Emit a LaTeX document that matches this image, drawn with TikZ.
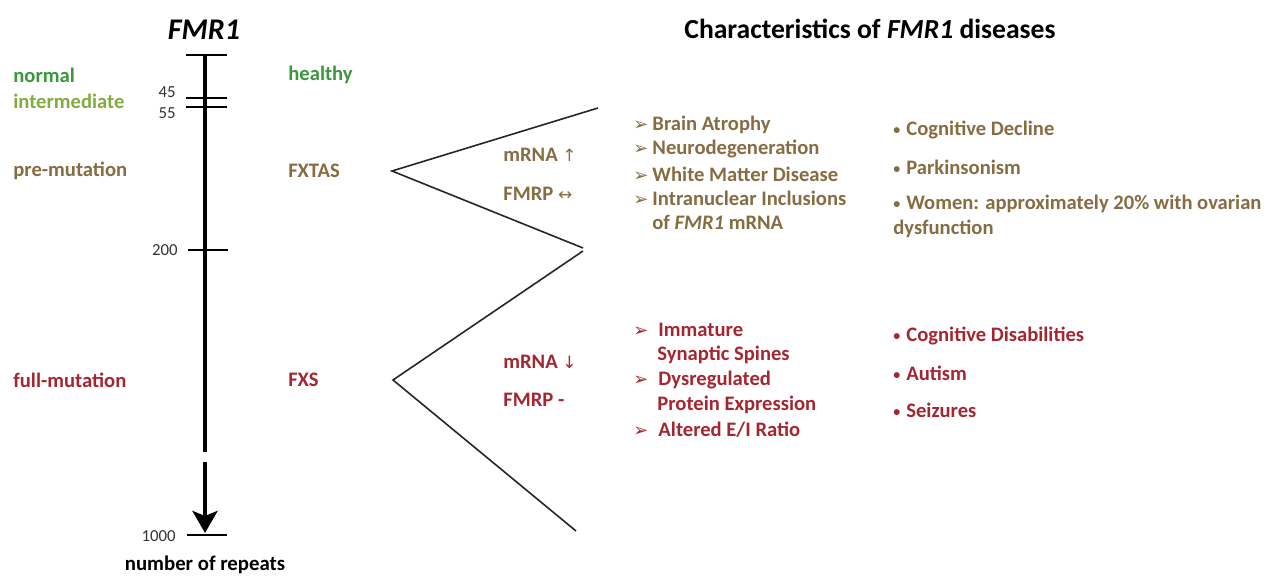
\documentclass[tikz,border=0pt]{standalone}
\usepackage{fontspec}
\setmainfont{Carlito}
\newfontfamily\symfont{DejaVu Sans}
\usetikzlibrary{arrows.meta}
\definecolor{gnormal}{RGB}{60,150,60}
\definecolor{ginter}{RGB}{130,172,64}
\definecolor{brn}{RGB}{135,108,66}
\definecolor{rd}{RGB}{165,38,48}
\definecolor{numgray}{RGB}{50,50,50}
\newcommand{\arr}{{\symfont\fontsize{9}{10}\selectfont ➢}\hspace{2pt}}
\newcommand{\bul}{\raisebox{0.5pt}{\fontsize{7}{8}\selectfont\textbullet}\hspace{3pt}}
\tikzset{
  lbl/.style={anchor=west, inner sep=0pt, font=\bfseries\fontsize{10.3}{12}\selectfont},
  num/.style={anchor=east, inner sep=0pt, text=numgray, font=\fontsize{8.4}{10}\selectfont},
  axisline/.style={line width=2.2pt, black},
  tick/.style={line width=1.4pt, black},
  zig/.style={line width=0.8pt, black!85},
}
\begin{document}
\begin{tikzpicture}[x=0.5pt,y=-0.5pt]
\useasboundingbox (0,0) rectangle (1282,577);
% titles
\node[inner sep=0pt, font=\bfseries\itshape\fontsize{15}{17}\selectfont] (t1) at (204,30) {FMR1};
\node[inner sep=0pt, font=\bfseries\fontsize{13.8}{16}\selectfont] (t2) at (870,29) {Characteristics of \textit{FMR1} diseases};
% axis
\coordinate (a0) at (205,55);
\coordinate (a1) at (205,452);
\coordinate (a2) at (205,462);
\coordinate (a3) at (205,533);
\draw[axisline] (a0) -- (a1);
\draw[axisline, -{Stealth[length=11pt,width=12.5pt,inset=2.5pt]}] (a2) -- (a3);
\coordinate (k0l) at (186,55); \coordinate (k0r) at (227,55);
\coordinate (k1l) at (186,98); \coordinate (k1r) at (227,98);
\coordinate (k2l) at (186,107); \coordinate (k2r) at (227,107);
\coordinate (k3l) at (188,250); \coordinate (k3r) at (228,250);
\coordinate (k4l) at (187,535); \coordinate (k4r) at (227,535);
\draw[tick] (k0l) -- (k0r);
\draw[tick] (k1l) -- (k1r);
\draw[tick] (k2l) -- (k2r);
\draw[tick] (k3l) -- (k3r);
\draw[tick] (k4l) -- (k4r);
\node[num] (n45) at (176,92) {45};
\node[num] (n55) at (176,113) {55};
\node[num] (n200) at (178,250) {200};
\node[num] (n1000) at (176,536) {1000};
\node[inner sep=0pt, font=\bfseries\fontsize{10.4}{12}\selectfont] (rep) at (205,565) {number of repeats};
% left labels
\node[lbl, text=gnormal] (normal) at (13,75) {normal};
\node[lbl, text=ginter] (inter) at (13,101) {intermediate};
\node[lbl, text=brn] (pre) at (13,171) {pre-mutation};
\node[lbl, text=rd] (full) at (13,380) {full-mutation};
\node[lbl, text=gnormal] (healthy) at (288,75) {healthy};
\node[lbl, text=brn] (fxtas) at (288,171) {FXTAS};
\node[lbl, text=rd] (fxs) at (288,380) {FXS};
% zigzag
\coordinate (z0) at (598,108);
\coordinate (z1) at (392,171);
\coordinate (z2) at (583,248);
\coordinate (z3) at (583,251);
\coordinate (z4) at (393,380);
\coordinate (z5) at (576,531);
\draw[zig] (z0) -- (z1) -- (z2);
\draw[zig] (z3) -- (z4) -- (z5);
% FXTAS
\node[lbl, text=brn] (m1) at (503,155) {mRNA {\symfont\mdseries\fontsize{8.5}{9}\selectfont ↑}};
\node[lbl, text=brn] (f1) at (503,194) {FMRP {\symfont\mdseries\fontsize{8.5}{9}\selectfont ↔}};
\node[lbl, text=brn] (b1) at (633,125) {\arr Brain Atrophy};
\node[lbl, text=brn] (b2) at (633,149) {\arr Neurodegeneration};
\node[lbl, text=brn] (b3) at (633,174) {\arr White Matter Disease};
\node[lbl, text=brn] (b4) at (633,198) {\arr Intranuclear Inclusions};
\node[lbl, text=brn] (b5) at (652,222) {of \textit{FMR1} mRNA};
\node[lbl, text=brn] (c1) at (893,130) {\bul Cognitive Decline};
\node[lbl, text=brn] (c2) at (893,167) {\bul Parkinsonism};
\node[lbl, text=brn] (c3) at (893,204) {\bul Women: approximately 20\% with ovarian};
\node[lbl, text=brn] (c4) at (893,229) {dysfunction};
% FXS
\node[lbl, text=rd] (m2) at (503,362) {mRNA {\symfont\mdseries\fontsize{8.5}{9}\selectfont ↓}};
\node[lbl, text=rd] (f2) at (503,400) {FMRP -};
\node[lbl, text=rd] (d1) at (633,330) {\arr\hspace{3pt}Immature};
\node[lbl, text=rd] (d2) at (657,355) {Synaptic Spines};
\node[lbl, text=rd] (d3) at (633,380) {\arr\hspace{3pt}Dysregulated};
\node[lbl, text=rd] (d4) at (657,405) {Protein Expression};
\node[lbl, text=rd] (d5) at (633,430) {\arr\hspace{3pt}Altered E/I Ratio};
\node[lbl, text=rd] (e1) at (893,336) {\bul Cognitive Disabilities};
\node[lbl, text=rd] (e2) at (893,373) {\bul Autism};
\node[lbl, text=rd] (e3) at (893,410) {\bul Seizures};
\end{tikzpicture}
\end{document}
